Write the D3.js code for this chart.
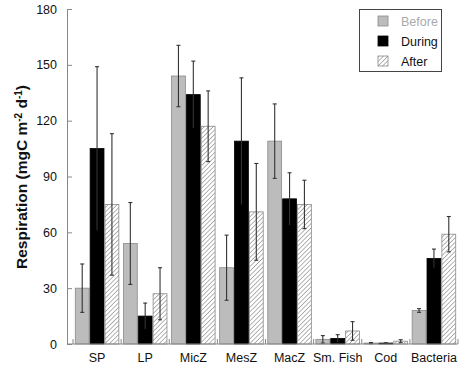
<!DOCTYPE html>
<html>
<head>
<meta charset="utf-8">
<script src="https://cdn.jsdelivr.net/npm/d3@7"></script>
<style>
  body { margin: 0; background: #fff; }
  text { font-family: "Liberation Sans", Arial, sans-serif; }
</style>
</head>
<body>
<div id="chart"></div>
<script>
// Data
const categories = ['SP', 'LP', 'MicZ', 'MesZ', 'MacZ', 'Sm. Fish', 'Cod', 'Bacteria']
const series = ['Before', 'During', 'After']
const before = [30, 54, 144, 41, 109, 2.5, 0.5, 18]
const beforeErr = [13, 22, 16.5, 17.5, 20, 2, 0.3, 1]
const during = [105, 15, 134, 109, 78, 3, 0.5, 46]
const duringErr = [44, 7, 18, 34, 14, 2, 0.2, 5]
const after = [75, 27, 117, 71, 75, 7, 1.5, 59]
const afterErr = [38, 14, 19, 26, 13, 5, 0.8, 9.5]
const yTicks = [0, 30, 60, 90, 120, 150, 180]

const values = { Before: before, During: during, After: after }
const errors = { Before: beforeErr, During: duringErr, After: afterErr }

const dims = { width: 459, height: 366, left: 67, right: 458, top: 9, bottom: 344 }

const svg = d3.select('#chart')
  .append('svg')
  .attr('width', dims.width)
  .attr('height', dims.height)

// hatch for "After"
const defs = svg.append('defs')
const pat = defs.append('pattern')
  .attr('id', 'hatch')
  .attr('patternUnits', 'userSpaceOnUse')
  .attr('width', 3.2)
  .attr('height', 3.2)
  .attr('patternTransform', 'rotate(45)')
pat.append('rect').attr('width', 3.2).attr('height', 3.2).attr('fill', '#fff')
pat.append('line')
  .attr('x1', 0).attr('y1', 0).attr('x2', 0).attr('y2', 3.2)
  .attr('stroke', '#777').attr('stroke-width', 1.1)

const fills = { Before: '#bcbcbc', During: '#000', After: 'url(#hatch)' }
const strokes = { Before: '#8a8a8a', During: '#000', After: '#8a8a8a' }

// Scales
const x0 = d3.scaleBand()
  .domain(categories)
  .range([73, dims.right])
  .paddingInner(0)
  .paddingOuter(0)

const x1 = d3.scaleBand()
  .domain(series)
  .range([0, x0.bandwidth()])
  .paddingOuter(0.12)
  .paddingInner(0)

const y = d3.scaleLinear()
  .domain([0, 180])
  .range([dims.bottom, dims.top])

// Bars
const rows = []
categories.forEach((c, i) => {
  series.forEach(s => rows.push({ cat: c, s, v: values[s][i], e: errors[s][i] }))
})

const bars = svg.append('g')
bars.selectAll('rect')
  .data(rows)
  .join('rect')
  .attr('x', d => x0(d.cat) + x1(d.s) + 0.5)
  .attr('y', d => y(d.v))
  .attr('width', x1.bandwidth() - 1)
  .attr('height', d => y(0) - y(d.v))
  .attr('fill', d => fills[d.s])
  .attr('stroke', d => strokes[d.s])
  .attr('stroke-width', 0.8)

// Error bars
const eb = svg.append('g').attr('stroke', '#333').attr('stroke-width', 1.1)
const cx = d => x0(d.cat) + x1(d.s) + x1.bandwidth() / 2
eb.selectAll('.stem')
  .data(rows)
  .join('line')
  .attr('x1', cx).attr('x2', cx)
  .attr('y1', d => y(Math.max(0, d.v - d.e)))
  .attr('y2', d => y(d.v + d.e))
eb.selectAll('.capTop')
  .data(rows)
  .join('line')
  .attr('x1', d => cx(d) - 2).attr('x2', d => cx(d) + 2)
  .attr('y1', d => y(d.v + d.e)).attr('y2', d => y(d.v + d.e))
eb.selectAll('.capBot')
  .data(rows.filter(d => d.s !== 'During'))
  .join('line')
  .attr('x1', d => cx(d) - 2).attr('x2', d => cx(d) + 2)
  .attr('y1', d => y(Math.max(0, d.v - d.e))).attr('y2', d => y(Math.max(0, d.v - d.e)))

// Y axis
const yAxis = d3.axisLeft(y).tickValues(yTicks).tickSize(-5).tickPadding(10)
const yg = svg.append('g')
  .attr('transform', `translate(${dims.left},0)`)
  .call(yAxis)
yg.select('.domain').attr('stroke', '#888')
yg.selectAll('.tick line').attr('stroke', '#888')
yg.selectAll('.tick text')
  .attr('font-size', 12.5)
  .attr('fill', '#111')
  .style('font-family', '"Liberation Sans", Arial, sans-serif')

// X axis
const xg = svg.append('g')
xg.append('line')
  .attr('x1', dims.left).attr('x2', dims.right)
  .attr('y1', dims.bottom).attr('y2', dims.bottom)
  .attr('stroke', '#888')
xg.selectAll('.sep')
  .data(categories.concat(['end']))
  .join('line')
  .attr('x1', (d, i) => 73 + i * x0.step())
  .attr('x2', (d, i) => 73 + i * x0.step())
  .attr('y1', dims.bottom).attr('y2', dims.bottom - 5)
  .attr('stroke', '#888')
xg.selectAll('text')
  .data(categories)
  .join('text')
  .attr('x', d => x0(d) + x0.bandwidth() / 2)
  .attr('y', 362)
  .attr('text-anchor', 'middle')
  .attr('font-size', 12.5)
  .attr('fill', '#111')
  .text(d => d)

// Y label
const yl = svg.append('text')
  .attr('transform', 'translate(27,177) rotate(-90)')
  .attr('text-anchor', 'middle')
  .attr('font-size', 15.5)
  .attr('font-weight', 'bold')
  .attr('fill', '#111')
yl.append('tspan').text('Respiration (mgC m')
yl.append('tspan').attr('baseline-shift', 'super').attr('font-size', 10).text('-2')
yl.append('tspan').text(' d')
yl.append('tspan').attr('baseline-shift', 'super').attr('font-size', 10).text('-1')
yl.append('tspan').text(')')

// Legend
const lg = svg.append('g')
lg.append('rect')
  .attr('x', 359.5).attr('y', 9.5)
  .attr('width', 82).attr('height', 62)
  .attr('fill', '#fff')
  .attr('stroke', '#444')
const textColors = { Before: '#aaa', During: '#111', After: '#111' }
series.forEach((s, i) => {
  const yy = 21 + i * 20
  lg.append('rect')
    .attr('x', 378).attr('y', yy - 5)
    .attr('width', 10).attr('height', 10)
    .attr('fill', fills[s])
    .attr('stroke', strokes[s])
    .attr('stroke-width', 0.8)
  lg.append('text')
    .attr('x', 401).attr('y', yy + 4.5)
    .attr('font-size', 12.5)
    .attr('fill', textColors[s])
    .text(s)
})
</script>
</body>
</html>
